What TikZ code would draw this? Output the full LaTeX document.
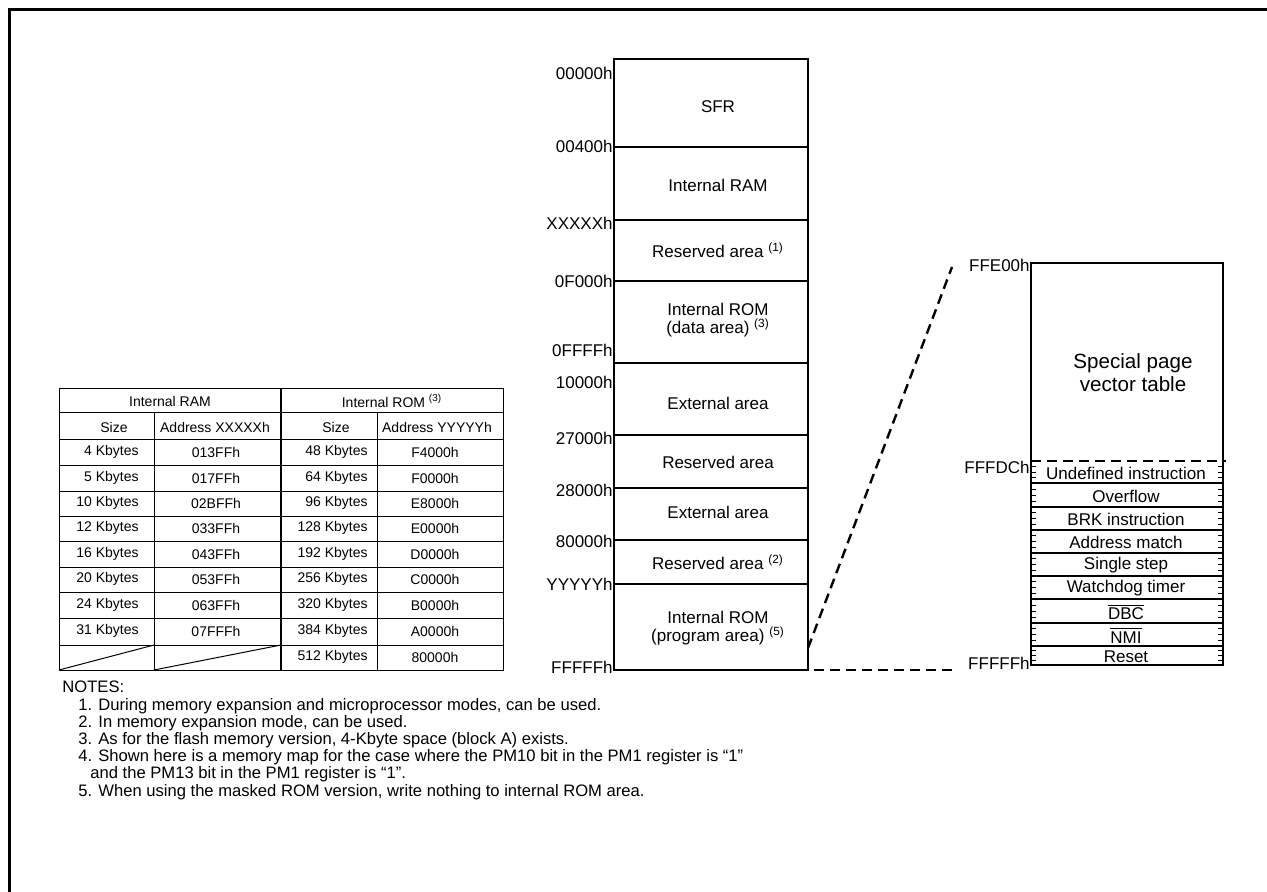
\documentclass[tikz,border=0pt]{standalone}
\usepackage{fontspec}
\setmainfont{Liberation Sans}
\newcommand{\mapfont}{\fontsize{8.5}{9}\selectfont}
\newcommand{\notefont}{\fontsize{8.3}{8.6}\selectfont}
\newcommand{\tabfont}{\fontsize{7}{8}\selectfont}
\newcommand{\bigfont}{\fontsize{10.3}{11.5}\selectfont}
\newcommand{\note}[1]{\textsuperscript{(#1)}}

\begin{document}
\begin{tikzpicture}[x=0.5pt,y=-0.5pt,
    maptext/.style={font=\mapfont,inner sep=0pt,align=center},
    addr/.style={font=\mapfont,inner sep=0pt,anchor=east},
    tabtext/.style={font=\tabfont,inner sep=0pt},
    thinline/.style={line width=0.5pt},
    zoomline/.style={line width=1.2pt,dash pattern=on 5pt off 3pt}]
  \useasboundingbox (0,0) rectangle (1267,892);
  \draw[line width=1.4pt] (9.7,892) -- (9.7,9.7) -- (1267,9.7);

  % memory map
  \draw[line width=0.6pt] (614,59) rectangle (808,670);
  \foreach \y in {147,220,281,363,435,488,540,584}
    \draw[line width=0.6pt] (614,\y) -- (808,\y);

  \foreach \y/\a [count=\i] in {73/00000h,146/00400h,223/XXXXXh,281/0F000h,350/0FFFFh,
      382/10000h,438/27000h,490/28000h,541/80000h,584/YYYYYh,667/FFFFFh}
    \node[addr] (addr\i) at (613,\y) {\a};

  \node[maptext] (sfr) at (718,107) {SFR};
  \node[maptext] (ram) at (718,185) {Internal RAM};
  \node[maptext] (res1) at (718,250) {Reserved area \note{1}};
  \node[maptext] (romdata) at (718,320) {Internal ROM\\(data area) \note{3}};
  \node[maptext] (ext1) at (718,403) {External area};
  \node[maptext] (res2) at (718,462) {Reserved area};
  \node[maptext] (ext2) at (718,512) {External area};
  \node[maptext] (res3) at (718,562) {Reserved area \note{2}};
  \node[maptext] (romprog) at (718,628) {Internal ROM\\(program area) \note{5}};

  % special page vector table
  \draw[line width=0.6pt] (1223,461) -- (1223,263) -- (1031,263) -- (1031,461);
  \draw[line width=0.6pt] (1031,461) -- (1031,665) -- (1223,665) -- (1223,461);
  \draw[zoomline] (1031,461) -- (1226,461);
  \foreach \y in {483,507,530,553,576,599,623,646}
    \draw[line width=0.6pt] (1031,\y) -- (1223,\y);
  \foreach \t/\b in {461/483,483/507,507/530,530/553,553/576,576/599,599/623,623/646,646/665}
    \foreach \k in {1,2,3} {
      \draw[thinline] (1031,{\t+\k*(\b-\t)/4}) -- ++(5,0);
      \draw[thinline] (1223,{\t+\k*(\b-\t)/4}) -- ++(-5,0);
    }
  \node[maptext,font=\bigfont] (spv) at (1133,373) {Special page\\vector table};
  \foreach \t/\b/\txt [count=\i] in {461/483/Undefined instruction,483/507/Overflow,
      507/530/BRK instruction,530/553/Address match,553/576/Single step,
      576/599/Watchdog timer,599/623/{$\overline{\mbox{DBC}}$},
      623/646/{$\overline{\mbox{NMI}}$},646/665/Reset}
    \node[maptext] (vec\i) at (1126,{(\t+\b)/2+1}) {\txt};

  \node[addr] (vaddr1) at (1030,265) {FFE00h};
  \node[addr] (vaddr2) at (1030,467) {FFFDCh};
  \node[addr] (vaddr3) at (1030,663) {FFFFFh};

  \coordinate (romedge) at (808,648);
  \coordinate (vectop) at (952,267);
  \coordinate (rombot) at (782,670);
  \coordinate (vecbot) at (953,670);
  \draw[zoomline] (romedge) -- (vectop);
  \draw[zoomline] (rombot) -- (vecbot);

  % size table
  \draw[thinline] (59,389) rectangle (503,670);
  \foreach \y in {413,440,465,491,516,541,567,592,618,645}
    \draw[thinline] (59,\y) -- (503,\y);
  \draw[line width=0.8pt] (281,389) -- (281,670);
  \draw[thinline] (154,413) -- (154,670);
  \draw[thinline] (377,413) -- (377,670);
  \draw[thinline] (59,670) -- (154,645);
  \draw[thinline] (154,670) -- (281,645);

  \node[tabtext] (hram) at (170,401) {Internal RAM};
  \node[tabtext] (hrom) at (392,401) {Internal ROM \note{3}};
  \node[tabtext] (hsize1) at (114,427) {Size};
  \node[tabtext] (haddr1) at (215,427) {Address XXXXXh};
  \node[tabtext] (hsize2) at (336,427) {Size};
  \node[tabtext] (haddr2) at (437,427) {Address YYYYYh};

  \foreach \y/\s/\a [count=\i] in {452/4/013FFh,478/5/017FFh,503/10/02BFFh,528/12/033FFh,
      554/16/043FFh,579/20/053FFh,605/24/063FFh,631/31/07FFFh} {
    \node[tabtext,anchor=east] (ramsize\i) at (139,\y) {\s\ Kbytes};
    \node[tabtext] (ramaddr\i) at (216,\y) {\a};
  }
  \foreach \y/\s/\a [count=\i] in {452/48/F4000h,478/64/F0000h,503/96/E8000h,528/128/E0000h,
      554/192/D0000h,579/256/C0000h,605/320/B0000h,631/384/A0000h,657/512/80000h} {
    \node[tabtext,anchor=east] (romsize\i) at (368,\y) {\s\ Kbytes};
    \node[tabtext] (romaddr\i) at (435,\y) {\a};
  }

  % notes
  \node[font=\notefont,inner sep=0pt,anchor=north west,align=left] (notes) at (62,681) {NOTES:\\
    \hspace*{8pt}1. During memory expansion and microprocessor modes, can be used.\\
    \hspace*{8pt}2. In memory expansion mode, can be used.\\
    \hspace*{8pt}3. As for the flash memory version, 4-Kbyte space (block A) exists.\\
    \hspace*{8pt}4. Shown here is a memory map for the case where the PM10 bit in the PM1 register is “1”\\
    \hspace*{14pt}and the PM13 bit in the PM1 register is “1”.\\
    \hspace*{8pt}5. When using the masked ROM version, write nothing to internal ROM area.};
\end{tikzpicture}
\end{document}
